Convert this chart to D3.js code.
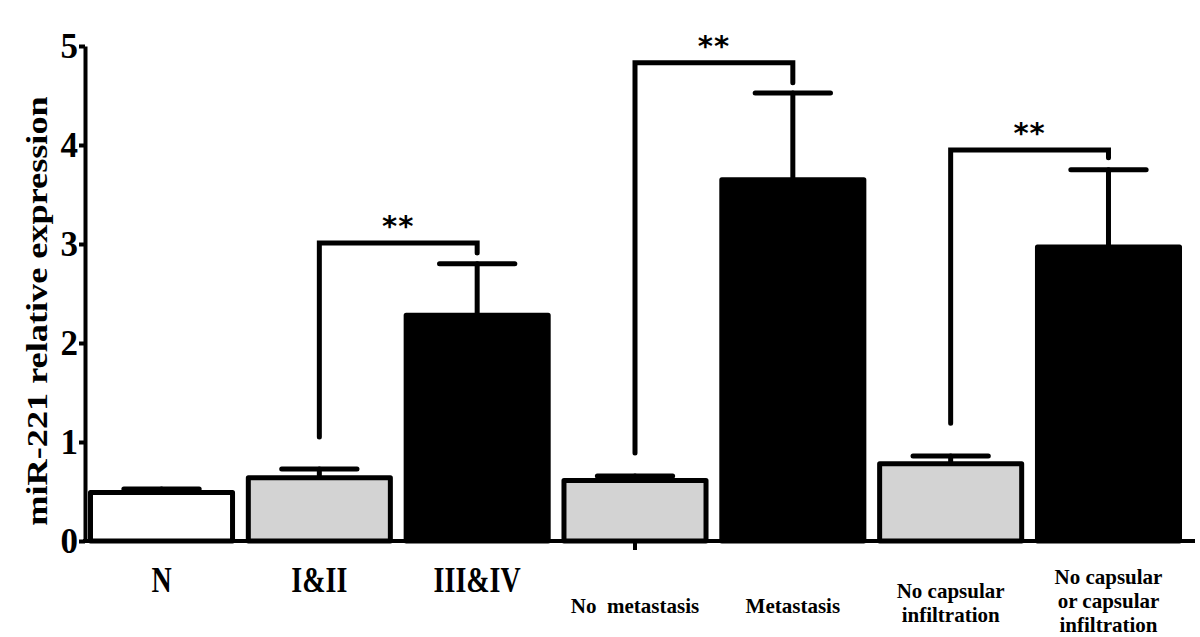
<!DOCTYPE html>
<html>
<head>
<meta charset="utf-8">
<script src="https://cdn.jsdelivr.net/npm/d3@7"></script>
<style>
  body { margin: 0; background: #fff; }
  svg text { font-family: "Liberation Serif", "Times New Roman", serif; font-weight: bold; }
</style>
</head>
<body>
<svg width="1200" height="637"></svg>
<script>
// groups
var categories = ["N", "I&II", "III&IV", "No  metastasis", "Metastasis", "No capsular infiltration", "No capsular or capsular infiltration"];
var labelLines = [["N"], ["I&II"], ["III&IV"], ["No  metastasis"], ["Metastasis"], ["No capsular", "infiltration"], ["No capsular", "or capsular", "infiltration"]];
var groupType = ["normal", "low", "high", "low", "high", "low", "high"];
var means = [0.49, 0.64, 2.28, 0.61, 3.65, 0.78, 2.97];
var sems = [0.035, 0.087, 0.52, 0.047, 0.875, 0.079, 0.78];
var yTicks = [0, 1, 2, 3, 4, 5];

// significance brackets (values in axis units)
var compFrom = [1, 3, 5];
var compTo = [2, 4, 6];
var compTop = [3.01, 4.83, 3.95];
var compLeftEnd = [1.05, 0.89, 1.19];
var compRightEnd = [2.91, 4.63, 3.87];
var compLabel = ["**", "**", "**"];

var svg = d3.select("svg");

var x = d3.scaleBand()
    .domain(categories)
    .range([82.6, 1187.4])
    .paddingInner(0.1)
    .paddingOuter(0.05);

var y = d3.scaleLinear()
    .domain([0, 5])
    .range([541, 46]);

var fill = d3.scaleOrdinal()
    .domain(["normal", "low", "high"])
    .range(["#ffffff", "#d3d3d3", "#000000"]);

var data = categories.map(function(c, i) {
  return {name: c, lines: labelLines[i], type: groupType[i], mean: means[i], sem: sems[i]};
});

var cx = function(d) { return x(d.name) + x.bandwidth() / 2; };
var capHalf = x.bandwidth() * 0.265;

// error bars (drawn under the bars)
var err = svg.append("g")
    .attr("stroke", "#000")
    .attr("stroke-width", 5)
    .attr("stroke-linecap", "round");

err.selectAll(".stem")
  .data(data)
  .enter()
  .append("line")
  .attr("x1", cx).attr("x2", cx)
  .attr("y1", function(d) { return y(d.mean); })
  .attr("y2", function(d) { return y(d.mean + d.sem); });

err.selectAll(".cap")
  .data(data)
  .enter()
  .append("line")
  .attr("x1", function(d) { return cx(d) - capHalf; })
  .attr("x2", function(d) { return cx(d) + capHalf; })
  .attr("y1", function(d) { return y(d.mean + d.sem); })
  .attr("y2", function(d) { return y(d.mean + d.sem); });

// bars
svg.append("g")
  .selectAll("rect")
  .data(data)
  .enter()
  .append("rect")
  .attr("x", function(d) { return x(d.name); })
  .attr("width", x.bandwidth())
  .attr("y", function(d) { return y(d.mean); })
  .attr("height", function(d) { return y(0) - y(d.mean); })
  .attr("fill", function(d) { return fill(d.type); })
  .attr("stroke", "#000")
  .attr("stroke-width", 5)
  .attr("stroke-linejoin", "round");

// brackets
var comps = compFrom.map(function(f, i) {
  return {a: categories[f], b: categories[compTo[i]], top: compTop[i], l: compLeftEnd[i], r: compRightEnd[i], label: compLabel[i]};
});

var br = svg.append("g");
br.selectAll("path")
  .data(comps)
  .enter()
  .append("path")
  .attr("fill", "none")
  .attr("stroke", "#000")
  .attr("stroke-width", 5)
  .attr("stroke-linecap", "round")
  .attr("d", function(d) {
    var xa = x(d.a) + x.bandwidth() / 2, xb = x(d.b) + x.bandwidth() / 2;
    return "M" + xa + "," + y(d.l) + "V" + y(d.top) + "H" + xb + "V" + y(d.r);
  });

br.selectAll("text")
  .data(comps)
  .enter()
  .append("text")
  .attr("x", function(d) { return (x(d.a) + x(d.b)) / 2 + x.bandwidth() / 2; })
  .attr("y", function(d) { return y(d.top) - 7; })
  .attr("text-anchor", "middle")
  .style("font-family", "'DejaVu Sans', sans-serif")
  .style("font-size", "29px")
  .style("letter-spacing", "1px")
  .text(function(d) { return d.label; });

// y axis
var yAxis = d3.axisLeft(y)
    .tickValues(yTicks)
    .tickFormat(d3.format("d"))
    .tickSize(6)
    .tickSizeOuter(0)
    .tickPadding(1);

var ya = svg.append("g")
    .attr("transform", "translate(85,0)")
    .call(yAxis);
ya.select(".domain").attr("stroke-width", 4);
ya.selectAll(".tick line").attr("stroke-width", 4);
ya.selectAll(".tick text")
  .style("font-size", "35px")
  .attr("dy", "0.34em");

// x axis: plain thick line with the one tick under the middle group
svg.append("line")
  .attr("x1", 83).attr("x2", 1195)
  .attr("y1", y(0)).attr("y2", y(0))
  .attr("stroke", "#000")
  .attr("stroke-width", 4);

svg.append("line")
  .attr("x1", cx(data[3])).attr("x2", cx(data[3]))
  .attr("y1", y(0)).attr("y2", y(0) + 9)
  .attr("stroke", "#000")
  .attr("stroke-width", 4);

// category labels
var lab = svg.append("g")
  .selectAll("text")
  .data(data)
  .enter()
  .append("text")
  .attr("text-anchor", "middle")
  .style("white-space", "pre")
  .style("font-size", function(d, i) { return i < 3 ? "28px" : "21px"; })
  .attr("transform", function(d, i) {
    if (i < 3) return "translate(" + cx(d) + ",592) scale(1,1.3)";
    var ty = d.lines.length === 1 ? 613 : (d.lines.length === 2 ? 598 : 584);
    return "translate(" + cx(d) + "," + ty + ")";
  });

lab.selectAll("tspan")
  .data(function(d) { return d.lines; })
  .enter()
  .append("tspan")
  .attr("x", 0)
  .attr("dy", function(d, i) { return i === 0 ? 0 : 24; })
  .text(function(d) { return d; });

// y label
svg.append("text")
  .attr("transform", "translate(47,311) rotate(-90) scale(1.25,1)")
  .attr("text-anchor", "middle")
  .style("font-size", "29px")
  .text("miR-221 relative expression");
</script>
</body>
</html>
